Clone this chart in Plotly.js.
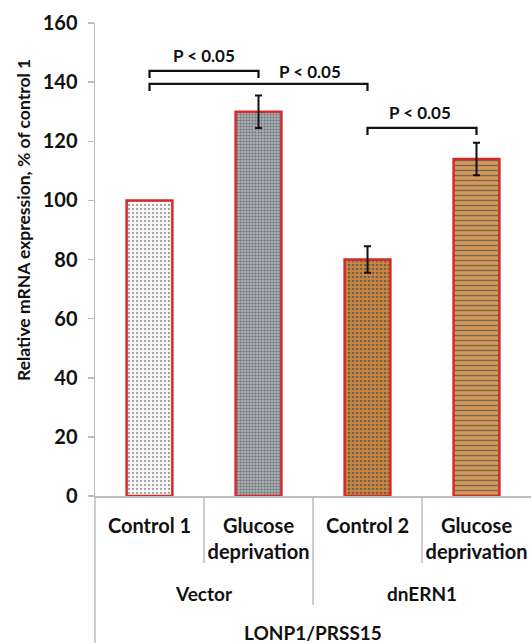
<!DOCTYPE html>
<html>
<head>
<meta charset="utf-8">
<script src="https://cdn.plot.ly/plotly-3.0.1.min.js"></script>
<style>
  html, body { margin: 0; padding: 0; background: #ffffff; }
  #chart { width: 531px; height: 643px; }
</style>
</head>
<body>
<div id="chart"></div>
<script>
// ---- data ----
const categories = ["Control 1", "Glucose<br>deprivation", "Control 2", "Glucose<br>deprivation"];
const groups = ["Vector", "dnERN1"];
const groupMembers = [[0, 1], [2, 3]];
const topLabel = "LONP1/PRSS15";
const values = [100, 130, 80, 114];
const errors = [NaN, 5.5, 4.5, 5.5];
const yTickValues = [0, 20, 40, 60, 80, 100, 120, 140, 160];
const yTitle = "Relative mRNA expression, % of control 1";
// significance brackets: from bar, to bar, bracket height, label x, label y, label
const sigFrom = [0, 0, 2];
const sigTo = [1, 2, 3];
const sigHeight = [143.8, 139.4, 124.5];
const sigLabelX = [0.5, 1.47, 2.48];
const sigLabelY = [148.9, 143.5, 129.6];
const sigLabels = ["P < 0.05", "P < 0.05", "P < 0.05"];

// ---- styles ----
const FONT = "Lato, 'Open Sans', sans-serif";
const barColors = ["#f7f7f7", "#a9afb6", "#c98643", "#d59a5a"];
const patShapes = [".", ".", ".", "-"];
const patFg = ["#c4c4c4", "#4b5158", "#7a3414", "#955322"];
const patSize = [4, 3, 4, 5];
const patSolid = [0.2, 0.4, 0.35, 0.3];

const idx = categories.map((_, i) => i);
const boldFont = (size) => ({ family: FONT, size: size, color: "#111111", weight: "bold" });

const trace = {
  type: "bar",
  x: idx,
  y: values,
  width: 0.42,
  marker: {
    color: barColors,
    line: { color: "#d42a2a", width: 2.5 },
    pattern: {
      shape: patShapes,
      fgcolor: patFg,
      fgopacity: 0.6,
      size: patSize,
      solidity: patSolid,
      fillmode: "overlay"
    }
  },
  error_y: {
    type: "data",
    array: errors,
    visible: true,
    color: "#111111",
    thickness: 2,
    width: 3.5
  },
  hoverinfo: "skip"
};

const plotTopPx = 23, plotBotPx = 496, plotH = plotBotPx - plotTopPx;
const pyFrac = px => (plotBotPx - px) / plotH;

const shapes = [];
const annotations = [];

// brackets
for (let k = 0; k < sigFrom.length; k++) {
  const a = sigFrom[k], b = sigTo[k], h = sigHeight[k], d = 2.4;
  shapes.push({
    type: "path", xref: "x", yref: "y",
    path: `M ${a},${h - d} L ${a},${h} L ${b},${h} L ${b},${h - d}`,
    line: { color: "#111111", width: 2.2 }
  });
  annotations.push({
    x: sigLabelX[k], y: sigLabelY[k], xref: "x", yref: "y",
    text: "<b>" + sigLabels[k] + "</b>", showarrow: false,
    font: boldFont(17),
    xanchor: "center", yanchor: "middle"
  });
}

// category dividers
const grey = "#bdbdbd";
for (let i = 0; i < categories.length - 1; i++) {
  const isGroupBoundary = groupMembers.some(g => g[g.length - 1] === i);
  shapes.push({
    type: "line", xref: "x", yref: "paper",
    x0: i + 0.5, x1: i + 0.5, y0: 0, y1: pyFrac(isGroupBoundary ? 605 : 563),
    line: { color: grey, width: 1.5 }
  });
}
// left outer line
shapes.push({
  type: "line", xref: "paper", yref: "paper",
  x0: 0, x1: 0, y0: 0, y1: pyFrac(643),
  line: { color: grey, width: 1.5 }
});
// axis line extension left of y-axis
shapes.push({
  type: "line", xref: "paper", yref: "paper",
  x0: -7 / 436, x1: 0, y0: 0, y1: 0,
  line: { color: grey, width: 1.5 }
});

// group labels
groups.forEach((g, gi) => {
  const m = groupMembers[gi];
  const cx = (m[0] + m[m.length - 1]) / 2;
  annotations.push({
    x: cx, y: pyFrac(593), xref: "x", yref: "paper",
    text: "<b>" + g + "</b>", showarrow: false,
    font: boldFont(19),
    xanchor: "center", yanchor: "middle"
  });
});
annotations.push({
  x: (idx[0] + idx[idx.length - 1]) / 2, y: pyFrac(632), xref: "x", yref: "paper",
  text: "<b>" + topLabel + "</b>", showarrow: false,
  font: boldFont(19),
  xanchor: "center", yanchor: "middle"
});
// y title
annotations.push({
  x: -72 / 436, y: pyFrac(220), xref: "paper", yref: "paper",
  text: "<b>" + yTitle + "</b>", showarrow: false, textangle: -90,
  font: boldFont(17.5),
  xanchor: "center", yanchor: "middle"
});

const layout = {
  width: 531, height: 643,
  margin: { l: 95, r: 0, t: plotTopPx, b: 643 - plotBotPx, pad: 0 },
  paper_bgcolor: "#ffffff", plot_bgcolor: "#ffffff",
  showlegend: false,
  xaxis: {
    type: "linear", range: [-0.5, 3.5],
    tickmode: "array", tickvals: idx,
    ticktext: categories,
    ticks: "", showgrid: false, zeroline: false,
    showline: true, linecolor: grey, linewidth: 1.5,
    tickfont: boldFont(20),
    ticklabelstandoff: 11,
    fixedrange: true
  },
  yaxis: {
    range: [0, 160], tickmode: "array", tickvals: yTickValues,
    ticks: "outside", ticklen: 6, tickcolor: grey, tickwidth: 1.5,
    showline: true, linecolor: grey, linewidth: 1.5,
    showgrid: false, zeroline: false,
    tickfont: boldFont(20),
    ticklabelstandoff: 6,
    fixedrange: true
  },
  shapes: shapes,
  annotations: annotations,
  bargap: 0.58
};

Plotly.newPlot("chart", [trace], layout, { displayModeBar: false, staticPlot: true });
</script>
</body>
</html>
